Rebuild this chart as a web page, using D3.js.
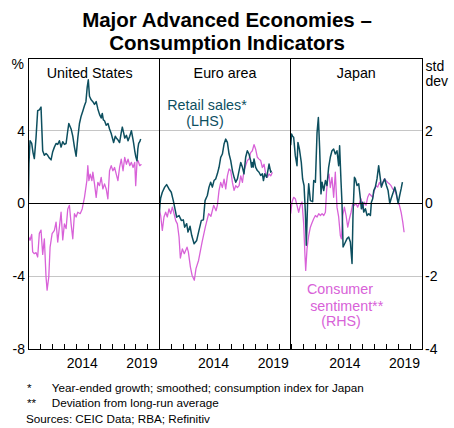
<!DOCTYPE html>
<html><head><meta charset="utf-8">
<script src="https://cdn.jsdelivr.net/npm/d3@7"></script>
<style>body{margin:0;background:#fff} text{font-family:"Liberation Sans",Arial,sans-serif}</style>
</head><body><svg id="c" width="454" height="428"></svg>
<script>
const titleLines = ["Major Advanced Economies \u2013", "Consumption Indicators"];
const panels = ["United States", "Euro area", "Japan"];
const yearTicks = d3.range(2010, 2022);
const yearLabels = [2014, 2019];
const leftTicks = [-8, -4, 0, 4];
const rightTicks = [-4, -2, 0, 2];
const gridValues = [-4, 4];
const footnotes = [["*", "Year-ended growth; smoothed; consumption index for Japan"], ["**", "Deviation from long-run average"]];
const sourceText = "Sources: CEIC Data; RBA; Refinitiv";

const usRetail = [[2010.00,-1.0],[2010.08,2.2],[2010.17,3.45],[2010.31,3.3],[2010.42,2.8],[2010.53,2.47],[2010.67,3.6],[2010.81,5.1],[2010.95,5.15],[2011.09,5.3],[2011.23,2.9],[2011.37,2.65],[2011.51,2.75],[2011.65,2.65],[2011.79,2.5],[2011.93,2.4],[2012.07,2.85],[2012.21,3.1],[2012.35,3.3],[2012.49,3.25],[2012.63,3.45],[2012.77,3.1],[2012.91,3.4],[2013.05,3.25],[2013.19,3.3],[2013.33,4.0],[2013.42,4.4],[2013.61,4.1],[2013.75,3.7],[2013.89,3.1],[2014.03,2.6],[2014.17,3.6],[2014.31,4.4],[2014.45,4.8],[2014.60,5.1],[2014.74,5.4],[2014.85,5.6],[2014.96,6.4],[2015.05,6.8],[2015.15,5.9],[2015.29,5.7],[2015.43,5.6],[2015.57,5.45],[2015.71,5.6],[2015.85,5.2],[2015.99,4.9],[2016.13,4.7],[2016.22,4.95],[2016.31,4.6],[2016.41,4.55],[2016.55,4.3],[2016.70,4.4],[2016.83,4.1],[2016.97,3.85],[2017.11,3.5],[2017.17,3.35],[2017.31,3.7],[2017.39,3.6],[2017.53,3.5],[2017.67,3.35],[2017.81,3.9],[2017.90,4.2],[2018.04,3.8],[2018.10,3.6],[2018.24,3.75],[2018.38,3.45],[2018.52,3.7],[2018.66,4.0],[2018.80,3.5],[2018.85,3.3],[2018.94,2.9],[2019.02,2.6],[2019.13,2.35],[2019.20,3.0],[2019.27,3.3],[2019.36,3.4],[2019.44,3.55]];
const usSentiment = [[2010.06,-0.92],[2010.17,-1.01],[2010.31,-0.85],[2010.39,-1.33],[2010.53,-1.38],[2010.67,-1.35],[2010.81,-1.47],[2010.95,-0.82],[2011.09,-0.73],[2011.23,-1.4],[2011.37,-0.97],[2011.51,-2.02],[2011.60,-2.38],[2011.74,-2.02],[2011.85,-1.2],[2012.02,-0.83],[2012.21,-0.74],[2012.35,-0.51],[2012.49,-1.06],[2012.63,-0.65],[2012.77,-0.24],[2012.91,-1.0],[2013.05,-0.56],[2013.19,-0.69],[2013.33,-0.15],[2013.47,-0.05],[2013.61,-0.56],[2013.75,-0.97],[2013.89,-0.28],[2014.03,-0.37],[2014.17,-0.24],[2014.37,-0.28],[2014.54,-0.15],[2014.73,0.17],[2014.93,0.63],[2015.01,1.04],[2015.10,0.63],[2015.21,0.81],[2015.35,0.63],[2015.43,0.86],[2015.57,0.54],[2015.71,0.17],[2015.85,0.58],[2015.99,0.49],[2016.13,0.72],[2016.27,0.4],[2016.41,0.54],[2016.55,0.4],[2016.69,0.13],[2016.83,0.9],[2016.97,1.04],[2017.11,0.9],[2017.25,0.99],[2017.39,0.81],[2017.53,0.63],[2017.67,0.99],[2017.81,1.22],[2017.96,0.9],[2018.10,1.27],[2018.24,1.08],[2018.38,1.22],[2018.52,1.04],[2018.66,1.13],[2018.80,0.99],[2018.94,1.13],[2019.02,0.49],[2019.13,1.13],[2019.21,1.18],[2019.36,1.04],[2019.50,1.08]];
const euRetail = [[2010.00,-0.6],[2010.06,0.0],[2010.11,0.3],[2010.25,0.62],[2010.45,0.9],[2010.61,1.04],[2010.81,0.8],[2011.00,0.62],[2011.17,0.16],[2011.28,-0.2],[2011.45,-0.75],[2011.65,-0.66],[2011.84,-0.93],[2012.01,-0.9],[2012.12,-1.3],[2012.29,-1.11],[2012.40,-1.57],[2012.57,-1.25],[2012.71,-1.75],[2012.91,-2.21],[2013.13,-2.03],[2013.32,-1.48],[2013.52,-0.93],[2013.69,-0.9],[2013.83,0.16],[2014.02,0.44],[2014.16,0.9],[2014.30,1.17],[2014.44,0.9],[2014.58,1.26],[2014.72,1.35],[2014.86,1.63],[2015.00,1.99],[2015.14,2.54],[2015.28,2.72],[2015.42,3.27],[2015.56,3.54],[2015.70,3.36],[2015.84,2.72],[2015.98,2.36],[2016.12,1.81],[2016.26,1.44],[2016.40,1.17],[2016.54,1.35],[2016.68,1.81],[2016.82,2.26],[2016.96,1.99],[2017.09,1.63],[2017.23,2.54],[2017.37,2.9],[2017.51,2.72],[2017.65,2.36],[2017.72,2.0],[2017.79,2.26],[2017.86,2.0],[2017.93,2.45],[2018.07,1.99],[2018.21,1.81],[2018.35,1.72],[2018.49,1.54],[2018.63,1.63],[2018.72,1.26],[2018.83,1.63],[2018.99,1.44],[2019.19,2.17],[2019.33,1.72],[2019.39,1.81]];
const euSentiment = [[2010.00,-0.2],[2010.11,-0.33],[2010.25,-0.74],[2010.39,-0.37],[2010.53,-0.24],[2010.67,-0.37],[2010.81,-0.15],[2010.95,-0.28],[2011.09,-0.1],[2011.23,-0.28],[2011.37,-0.47],[2011.51,-0.56],[2011.65,-0.92],[2011.76,-1.5],[2011.93,-1.25],[2012.09,-1.38],[2012.32,-1.2],[2012.43,-1.33],[2012.60,-1.74],[2012.74,-1.97],[2012.93,-2.11],[2013.07,-1.79],[2013.29,-1.56],[2013.58,-1.06],[2013.85,-0.65],[2014.13,-0.28],[2014.32,-0.35],[2014.55,-0.05],[2014.75,-0.2],[2014.86,-0.05],[2015.00,0.36],[2015.14,0.58],[2015.28,0.44],[2015.42,0.67],[2015.56,0.4],[2015.70,0.76],[2015.84,0.95],[2015.98,0.9],[2016.12,0.58],[2016.26,0.36],[2016.40,0.49],[2016.54,0.44],[2016.68,0.49],[2016.82,0.76],[2016.96,0.58],[2017.09,0.9],[2017.23,1.04],[2017.37,1.18],[2017.51,1.22],[2017.65,1.4],[2017.79,1.45],[2017.93,1.62],[2018.07,1.49],[2018.21,1.27],[2018.35,1.22],[2018.49,1.18],[2018.63,0.99],[2018.77,1.08],[2018.91,0.81],[2019.05,0.72],[2019.19,0.81],[2019.33,0.76],[2019.47,0.86]];
const jpRetail = [[2010.00,3.2],[2010.08,3.82],[2010.16,3.7],[2010.25,3.64],[2010.39,2.63],[2010.53,2.08],[2010.61,3.36],[2010.73,3.0],[2010.89,2.26],[2011.00,1.35],[2011.12,0.99],[2011.23,-0.47],[2011.31,-2.3],[2011.42,0.07],[2011.51,1.08],[2011.65,0.16],[2011.84,0.1],[2011.93,1.26],[2012.07,1.17],[2012.21,3.9],[2012.32,4.73],[2012.43,3.0],[2012.54,0.53],[2012.63,1.17],[2012.77,0.71],[2012.91,1.26],[2013.04,0.99],[2013.18,1.99],[2013.32,2.54],[2013.46,2.9],[2013.60,3.0],[2013.74,2.72],[2013.88,2.9],[2014.02,2.08],[2014.10,3.18],[2014.22,1.17],[2014.30,0.0],[2014.39,-2.39],[2014.53,-2.2],[2014.72,-1.93],[2014.86,-1.84],[2015.00,-2.12],[2015.14,-3.3],[2015.22,-0.66],[2015.34,1.44],[2015.42,1.35],[2015.56,0.99],[2015.70,1.08],[2015.84,0.26],[2015.92,-0.29],[2016.03,0.07],[2016.12,-0.47],[2016.26,-0.29],[2016.40,-0.66],[2016.54,-0.56],[2016.68,-0.66],[2016.76,0.07],[2016.87,0.26],[2016.96,0.71],[2017.09,0.9],[2017.23,1.35],[2017.37,2.08],[2017.46,1.63],[2017.60,0.9],[2017.74,1.17],[2017.88,1.35],[2018.02,0.99],[2018.16,0.71],[2018.30,0.0],[2018.41,0.26],[2018.55,0.53],[2018.72,0.9],[2018.83,0.62],[2019.00,0.0],[2019.13,0.44],[2019.25,0.8],[2019.36,1.17]];
const jpSentiment = [[2010.00,-0.28],[2010.11,0.04],[2010.25,0.17],[2010.39,0.13],[2010.53,-0.05],[2010.67,-0.24],[2010.81,-0.05],[2010.95,0.04],[2011.09,-0.56],[2011.20,-1.45],[2011.26,-1.84],[2011.37,-1.24],[2011.51,-0.88],[2011.65,-0.65],[2011.79,-0.53],[2011.93,-0.42],[2012.07,-0.33],[2012.21,-0.37],[2012.35,-0.28],[2012.49,-0.33],[2012.63,-0.28],[2012.77,-0.33],[2012.91,-0.24],[2013.00,0.31],[2013.10,0.68],[2013.21,0.81],[2013.32,0.44],[2013.46,0.72],[2013.60,0.17],[2013.74,0.86],[2013.88,-0.1],[2014.02,-0.37],[2014.16,-0.88],[2014.25,-0.97],[2014.36,-0.33],[2014.50,-0.1],[2014.64,-0.33],[2014.78,-0.65],[2014.92,-0.42],[2015.06,-0.24],[2015.20,0.0],[2015.34,-0.05],[2015.47,0.0],[2015.61,-0.1],[2015.75,0.0],[2015.89,0.13],[2016.03,-0.15],[2016.17,0.04],[2016.31,-0.05],[2016.45,0.17],[2016.59,0.27],[2016.73,0.22],[2016.87,0.17],[2017.01,0.36],[2017.15,0.49],[2017.29,0.45],[2017.43,0.58],[2017.57,0.49],[2017.71,0.58],[2017.85,0.68],[2017.99,0.63],[2018.13,0.58],[2018.27,0.54],[2018.41,0.49],[2018.55,0.4],[2018.69,0.36],[2018.83,0.27],[2018.97,0.08],[2019.11,-0.05],[2019.25,-0.24],[2019.39,-0.51],[2019.50,-0.79]];

const retailSeries = [usRetail, euRetail, jpRetail];
const sentimentSeries = [usSentiment, euSentiment, jpSentiment];

const TEAL = "#0d4f5f", PINK = "#d862d8";
const L = 28, R = 422, T = 58, B = 349;
const pw = (R - L) / 3;
const svg = d3.select("#c");

const yL = d3.scaleLinear().domain([-8, 8]).range([B, T]);
const yR = d3.scaleLinear().domain([-4, 4]).range([B, T]);

// title
svg.selectAll(".title").data(titleLines).join("text")
  .attr("x", 227).attr("y", (d, i) => 26.5 + i * 23.5)
  .attr("text-anchor", "middle").attr("font-size", "20.5px").attr("font-weight", "bold")
  .attr("fill", "#000").text(d => d);

// gridlines
svg.selectAll(".grid").data(gridValues).join("line")
  .attr("x1", L).attr("x2", R).attr("y1", d => yL(d)).attr("y2", d => yL(d))
  .attr("stroke", "#c6c6c6").attr("stroke-width", 1).attr("shape-rendering", "crispEdges");

panels.forEach((name, i) => {
  const x0 = L + i * pw;
  const x = d3.scaleLinear().domain([2010, 2021]).range([x0, x0 + pw]);
  const cid = "clip" + i;
  svg.append("clipPath").attr("id", cid).append("rect")
    .attr("x", x0).attr("y", T).attr("width", pw).attr("height", B - T);
  const g = svg.append("g").attr("clip-path", `url(#${cid})`);
  g.append("path").datum(sentimentSeries[i])
    .attr("d", d3.line().x(d => x(d[0])).y(d => yR(d[1])))
    .attr("fill", "none").attr("stroke", PINK).attr("stroke-width", 1.3).attr("stroke-linejoin", "round");
  g.append("path").datum(retailSeries[i])
    .attr("d", d3.line().x(d => x(d[0])).y(d => yL(d[1])))
    .attr("fill", "none").attr("stroke", TEAL).attr("stroke-width", 1.5).attr("stroke-linejoin", "round");

  // year ticks (inward)
  const ax = svg.append("g").attr("transform", `translate(0,${B})`)
    .call(d3.axisBottom(x).tickValues(yearTicks).tickSize(-5).tickFormat(""));
  ax.select(".domain").remove();
  ax.selectAll("line").attr("stroke", "#000").attr("shape-rendering", "crispEdges");

  // year labels centred in the year
  const lab = svg.append("g").attr("transform", `translate(0,${B})`)
    .call(d3.axisBottom(x).tickValues(yearLabels.map(y => y + 0.5)).tickSize(0).tickPadding(9)
      .tickFormat(d => String(Math.floor(d))));
  lab.select(".domain").remove();
  lab.selectAll("text").attr("font-size", "14px").attr("fill", "#000").attr("font-family", null);

  // panel title
  svg.append("text").attr("x", i === 0 ? x0 + pw / 2 - 4 : x0 + pw / 2).attr("y", 78.3)
    .attr("text-anchor", "middle").attr("font-size", "14.3px").attr("fill", "#000").text(name);
});

// zero line
svg.append("line").attr("x1", L).attr("x2", R).attr("y1", yL(0)).attr("y2", yL(0))
  .attr("stroke", "#000").attr("stroke-width", 1).attr("shape-rendering", "crispEdges");

// frame and dividers
svg.append("rect").attr("x", L).attr("y", T).attr("width", R - L).attr("height", B - T)
  .attr("fill", "none").attr("stroke", "#000").attr("stroke-width", 1).attr("shape-rendering", "crispEdges");
[1, 2].forEach(k => svg.append("line").attr("x1", L + k * pw).attr("x2", L + k * pw)
  .attr("y1", T).attr("y2", B).attr("stroke", "#000").attr("shape-rendering", "crispEdges"));

// left axis
const la = svg.append("g").attr("transform", `translate(${L},0)`)
  .call(d3.axisLeft(yL).tickValues(leftTicks).tickSize(0).tickPadding(3).tickFormat(d => String(d)));
la.select(".domain").remove();
la.selectAll("text").attr("font-size", "14px").attr("fill", "#000").attr("font-family", null);

// right axis
const ra = svg.append("g").attr("transform", `translate(${R},0)`)
  .call(d3.axisRight(yR).tickValues(rightTicks).tickSize(0).tickPadding(3).tickFormat(d => String(d)));
ra.select(".domain").remove();
ra.selectAll("text").attr("font-size", "14px").attr("fill", "#000").attr("font-family", null);

// units
svg.append("text").attr("x", 24).attr("y", 68.5).attr("text-anchor", "end").attr("font-size", "14px").text("%");
svg.append("text").attr("x", 425.5).attr("y", 71).attr("font-size", "14px").text("std");
svg.append("text").attr("x", 425.5).attr("y", 86).attr("font-size", "14px").text("dev");

// annotations
svg.append("text").attr("x", 207).attr("y", 110).attr("text-anchor", "middle").attr("font-size", "14.3px").attr("fill", TEAL).text("Retail sales*");
svg.append("text").attr("x", 205).attr("y", 125.5).attr("text-anchor", "middle").attr("font-size", "14.3px").attr("fill", TEAL).text("(LHS)");
svg.append("text").attr("x", 340).attr("y", 293.5).attr("text-anchor", "middle").attr("font-size", "14.3px").attr("fill", PINK).text("Consumer");
svg.append("text").attr("x", 346.7).attr("y", 311).attr("text-anchor", "middle").attr("font-size", "14.3px").attr("fill", PINK).text("sentiment**");
svg.append("text").attr("x", 341).attr("y", 325.5).attr("text-anchor", "middle").attr("font-size", "14.3px").attr("fill", PINK).text("(RHS)");

// footnotes
footnotes.forEach((f, i) => {
  svg.append("text").attr("x", 27).attr("y", 391.5 + i * 15.7).attr("font-size", "11.7px").text(f[0]);
  svg.append("text").attr("x", 51.7).attr("y", 391.5 + i * 15.7).attr("font-size", "11.7px").text(f[1]);
});
svg.append("text").attr("x", 26).attr("y", 422.8).attr("font-size", "11.7px").text(sourceText);
</script></body></html>
